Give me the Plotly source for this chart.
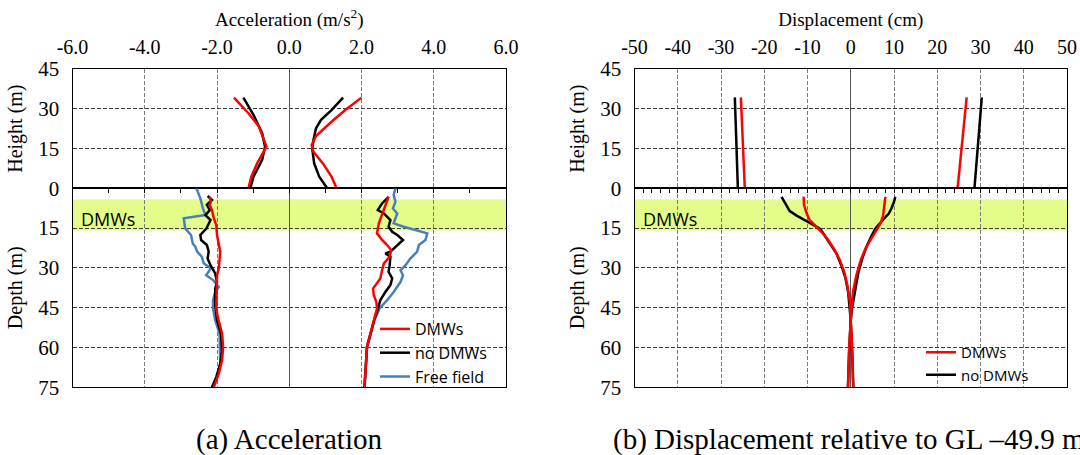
import plotly.graph_objects as go

# ---------------- data: acceleration (m/s^2) ----------------
# above ground (height, m)
h_acc_red_min = [34.2, 28.3, 23.3, 17.0, 15.7, 9.4, 4.4, 0.0]
a_acc_red_min = [-1.53, -1.13, -0.84, -0.65, -0.63, -0.89, -1.05, -1.13]
h_acc_red_max = [34.2, 29.5, 25.1, 19.7, 16.3, 13.8, 9.4, 4.4, 0.0]
a_acc_red_max = [2.00, 1.55, 1.17, 0.74, 0.62, 0.67, 0.93, 1.17, 1.31]
h_acc_blk_min = [34.2, 27.7, 20.8, 15.7, 10.7, 4.4, 0.0]
a_acc_blk_min = [-1.27, -0.99, -0.75, -0.67, -0.75, -0.99, -1.08]
h_acc_blk_max = [34.2, 29.5, 25.8, 22.6, 18.2, 14.5, 9.4, 4.4, 0.0]
a_acc_blk_max = [1.49, 1.17, 0.88, 0.74, 0.67, 0.64, 0.69, 0.83, 1.05]

# below ground (depth, m)
d_acc_red_min = [3.2, 5.0, 6.3, 8.2, 11.3, 13.9, 17.6, 20.8, 23.9, 27.1, 30.2, 32.8, 35.3, 40.3, 45.3, 48.5, 54.8, 59.8, 64.9, 69.9, 75.0]
a_acc_red_min_g = [-2.20, -2.17, -2.20, -2.14, -2.09, -2.02, -2.00, -1.95, -1.91, -1.93, -1.95, -2.00, -2.00, -2.02, -2.02, -1.98, -1.86, -1.83, -1.86, -1.95, -2.09]
d_acc_blk_min = [2.9, 4.4, 6.2, 8.2, 10.1, 12.0, 15.1, 17.6, 19.5, 21.4, 23.9, 26.5, 29.0, 32.1, 35.3, 37.8, 44.1, 49.7, 54.8, 61.1, 66.1, 71.1, 75.0]
a_acc_blk_min_g = [-2.26, -2.14, -2.28, -2.20, -2.32, -2.18, -2.29, -2.46, -2.44, -2.28, -2.23, -2.26, -2.18, -2.05, -2.00, -2.05, -2.05, -2.00, -1.89, -1.86, -1.91, -2.02, -2.14]
d_acc_ff_min = [0.0, 3.8, 7.6, 10.1, 11.3, 15.1, 17.6, 20.8, 22.0, 23.9, 25.8, 28.3, 30.2, 32.8, 34.6, 37.2, 39.1, 42.2, 45.3, 49.7, 54.8, 61.1, 66.1, 71.1, 75.0]
a_acc_ff_min = [-2.57, -2.46, -2.39, -2.32, -2.92, -2.88, -2.72, -2.67, -2.60, -2.55, -2.42, -2.37, -2.17, -2.30, -2.11, -1.95, -2.05, -2.11, -2.11, -2.05, -1.93, -1.91, -1.91, -2.00, -2.11]

d_acc_red_max = [3.2, 6.3, 10.1, 13.2, 17.0, 19.5, 21.4, 23.3, 25.8, 28.3, 30.9, 34.0, 36.5, 37.8, 40.3, 42.8, 45.3, 49.7, 54.8, 59.8, 67.0, 75.0]
a_acc_red_max_g = [2.75, 2.66, 2.57, 2.48, 2.43, 2.57, 2.71, 2.82, 2.78, 2.62, 2.57, 2.52, 2.39, 2.32, 2.34, 2.41, 2.43, 2.34, 2.25, 2.15, 2.12, 2.08]
d_acc_blk_max = [3.2, 5.7, 8.2, 9.5, 12.0, 14.5, 16.4, 17.6, 19.5, 22.0, 23.9, 24.6, 25.8, 29.0, 31.5, 34.0, 36.5, 39.1, 42.2, 45.3, 49.7, 54.8, 59.8, 67.0, 75.0]
a_acc_blk_max_g = [2.75, 2.57, 2.45, 2.62, 2.80, 2.75, 2.85, 2.99, 3.15, 2.94, 2.80, 2.66, 2.80, 2.78, 2.75, 2.85, 2.80, 2.66, 2.52, 2.46, 2.35, 2.25, 2.15, 2.12, 2.08]
d_acc_ff_max = [0.0, 2.5, 5.0, 7.6, 9.5, 11.3, 13.2, 14.5, 15.8, 17.0, 19.5, 21.4, 23.9, 26.5, 29.0, 30.9, 32.8, 35.3, 39.1, 42.2, 45.3, 49.7, 54.8, 59.8, 67.0, 75.0]
a_acc_ff_max = [2.94, 2.89, 2.94, 2.87, 2.99, 2.94, 2.89, 3.17, 3.54, 3.82, 3.77, 3.59, 3.54, 3.35, 3.22, 3.08, 3.15, 3.08, 2.89, 2.71, 2.50, 2.36, 2.26, 2.16, 2.12, 2.09]

# ---------------- data: displacement (cm) ----------------
h_dis_top = [34.3, 0.0]
v_dis_red_min_top = [-25.4, -24.5]
v_dis_blk_min_top = [-26.8, -26.1]
v_dis_red_max_top = [26.8, 24.7]
v_dis_blk_max_top = [30.3, 28.6]

d_dis_blk_min = [3.2, 4.4, 6.9, 8.6, 10.3, 12.0, 13.9, 15.1, 16.4, 18.9, 21.4, 24.6, 29.0, 34.0, 39.1, 45.3, 49.9, 60.0, 75.0]
v_dis_blk_min = [-16.0, -15.6, -14.8, -14.1, -12.5, -10.6, -8.7, -7.2, -6.6, -5.6, -4.5, -3.3, -2.2, -1.2, -0.6, -0.2, 0.0, 0.3, 0.6]
d_dis_red_min = [3.2, 6.3, 9.5, 12.0, 13.9, 16.4, 19.5, 23.3, 27.1, 31.5, 36.5, 42.8, 49.9, 60.0, 75.0]
v_dis_red_min = [-10.9, -10.8, -10.2, -9.5, -8.3, -6.8, -5.2, -3.7, -2.5, -1.5, -0.8, -0.2, 0.0, 0.3, 0.56]
d_dis_blk_max = [3.2, 5.1, 7.6, 9.5, 11.3, 13.2, 15.1, 17.6, 21.4, 25.8, 31.5, 37.8, 45.3, 49.9, 60.0, 75.0]
v_dis_blk_max = [10.3, 10.0, 9.4, 8.8, 7.8, 6.7, 5.7, 4.9, 3.8, 2.8, 1.8, 1.1, 0.3, 0.0, -0.35, -0.65]
d_dis_red_max = [3.2, 6.3, 10.1, 13.2, 15.7, 18.9, 22.7, 27.1, 32.8, 39.1, 45.3, 49.9, 60.0, 75.0]
v_dis_red_max = [8.0, 7.8, 7.5, 6.9, 5.9, 4.8, 3.4, 2.3, 1.3, 0.5, 0.15, 0.0, -0.35, -0.64]

# ---------------- tick labels ----------------
acc_tickvals = [-6, -4, -2, 0, 2, 4, 6]
acc_ticktext = ["-6.0", "-4.0", "-2.0", "0.0", "2.0", "4.0", "6.0"]
dis_tickvals = [-50, -40, -30, -20, -10, 0, 10, 20, 30, 40, 50]
dis_ticktext = ["-50", "-40", "-30", "-20", "-10", "0", "10", "20", "30", "40", "50"]
height_ticks = [0, 15, 30, 45]
depth_ticks = [15, 30, 45, 60, 75]

band_top, band_bottom = 4.1, 15.9
series_names = ["DMWs", "no DMWs", "Free field"]

RED, BLK, BLUE = "#ff0000", "#000000", "#4a7ebb"
LW = 2.5
SERIF = "Liberation Serif, Times New Roman, serif"
SANS = "Open Sans, sans-serif"

fig = go.Figure()

def add(x, y, xa, ya, color, name, rank, show, legend):
    fig.add_trace(go.Scatter(
        x=x, y=y, xaxis=xa, yaxis=ya, mode="lines",
        line=dict(color=color, width=LW),
        name=name, legendgroup=legend + name, showlegend=show,
        legendrank=rank, legend=legend, hoverinfo="skip"))

# acceleration panel
add(a_acc_blk_min, h_acc_blk_min, "x", "y", BLK, series_names[1], 2, False, "legend")
add(a_acc_blk_max, h_acc_blk_max, "x", "y", BLK, series_names[1], 2, False, "legend")
add(a_acc_red_min, h_acc_red_min, "x", "y", RED, series_names[0], 1, False, "legend")
add(a_acc_red_max, h_acc_red_max, "x", "y", RED, series_names[0], 1, False, "legend")
add(a_acc_ff_min, d_acc_ff_min, "x2", "y2", BLUE, series_names[2], 3, True, "legend")
add(a_acc_ff_max, d_acc_ff_max, "x2", "y2", BLUE, series_names[2], 3, False, "legend")
add(a_acc_blk_min_g, d_acc_blk_min, "x2", "y2", BLK, series_names[1], 2, True, "legend")
add(a_acc_blk_max_g, d_acc_blk_max, "x2", "y2", BLK, series_names[1], 2, False, "legend")
add(a_acc_red_min_g, d_acc_red_min, "x2", "y2", RED, series_names[0], 1, True, "legend")
add(a_acc_red_max_g, d_acc_red_max, "x2", "y2", RED, series_names[0], 1, False, "legend")

# displacement panel
add(v_dis_blk_min_top, h_dis_top, "x3", "y3", BLK, series_names[1], 2, False, "legend2")
add(v_dis_blk_max_top, h_dis_top, "x3", "y3", BLK, series_names[1], 2, False, "legend2")
add(v_dis_red_min_top, h_dis_top, "x3", "y3", RED, series_names[0], 1, False, "legend2")
add(v_dis_red_max_top, h_dis_top, "x3", "y3", RED, series_names[0], 1, False, "legend2")
add(v_dis_blk_min, d_dis_blk_min, "x4", "y4", BLK, series_names[1], 2, True, "legend2")
add(v_dis_blk_max, d_dis_blk_max, "x4", "y4", BLK, series_names[1], 2, False, "legend2")
add(v_dis_red_min, d_dis_red_min, "x4", "y4", RED, series_names[0], 1, True, "legend2")
add(v_dis_red_max, d_dis_red_max, "x4", "y4", RED, series_names[0], 1, False, "legend2")

W, H = 1080, 455
xl = [72.5 / W, 506 / W]
xr = [634.5 / W, 1067 / W]
top_dom = [(H - 188.3) / H, (H - 69) / H]
bot_dom = [(H - 387.2) / H, (H - 188.3) / H]

VG = dict(showgrid=True, gridcolor="#7a7a7a", griddash="4px,2px", gridwidth=1)
HG = dict(showgrid=True, gridcolor="#3c3c3c", griddash="4px,2px", gridwidth=1)
LINE = dict(showline=True, linecolor="black", linewidth=1, mirror=True)
XTICKF = dict(family=SERIF, size=20, color="black")
YTICKF = dict(family=SERIF, size=21, color="black")

def xtop(dom, anchor, rng, tv, tt, title):
    return dict(domain=dom, anchor=anchor, side="top", range=rng,
                tickmode="array", tickvals=tv, ticktext=tt,
                ticks="", tickfont=XTICKF, ticklabelstandoff=6,
                zeroline=True, zerolinecolor="#555555", zerolinewidth=1,
                title=dict(text=title, font=dict(family=SERIF, size=19, color="black"), standoff=4),
                automargin=False, **VG, **LINE)

def xbot(dom, anchor, rng, dtick, mdtick):
    return dict(domain=dom, anchor=anchor, side="top", range=rng, dtick=dtick,
                showticklabels=False, ticks="inside", ticklen=5, tickcolor="black",
                minor=dict(dtick=mdtick, ticks="inside", ticklen=5, tickcolor="black", showgrid=False),
                zeroline=True, zerolinecolor="#555555", zerolinewidth=1,
                automargin=False, **VG, **LINE)

def ytop(dom, anchor):
    return dict(domain=dom, anchor=anchor, range=[0, 45], tickvals=height_ticks,
                ticks="", tickfont=YTICKF, ticklabelstandoff=8, zeroline=False,
                title=dict(text="Height (m)", font=dict(family=SERIF, size=20, color="black"), standoff=10),
                automargin=False, **HG, **LINE)

def ybot(dom, anchor):
    return dict(domain=dom, anchor=anchor, range=[75, 0], tickvals=depth_ticks,
                ticks="", tickfont=YTICKF, ticklabelstandoff=8, zeroline=False,
                title=dict(text="Depth (m)", font=dict(family=SERIF, size=20, color="black"), standoff=10),
                automargin=False, **HG, **LINE)

fig.update_layout(
    width=W, height=H,
    margin=dict(l=0, r=0, t=0, b=0),
    paper_bgcolor="white", plot_bgcolor="white",
    xaxis=xtop(xl, "y", [-6, 6], acc_tickvals, acc_ticktext, "Acceleration (m/s<sup>2</sup>)"),
    yaxis=ytop(top_dom, "x"),
    xaxis2=xbot(xl, "y2", [-6, 6], 2, 1),
    yaxis2=ybot(bot_dom, "x2"),
    xaxis3=xtop(xr, "y3", [-50, 50], dis_tickvals, dis_ticktext, "Displacement (cm)"),
    yaxis3=ytop(top_dom, "x3"),
    xaxis4=xbot(xr, "y4", [-50, 50], 10, 2),
    yaxis4=ybot(bot_dom, "x4"),
    legend=dict(x=375 / W, y=(H - 312) / H, xanchor="left", yanchor="top",
                bgcolor="rgba(0,0,0,0)", font=dict(family=SANS, size=16, color="black"),
                itemwidth=30, tracegroupgap=0),
    legend2=dict(x=921 / W, y=(H - 336) / H, xanchor="left", yanchor="top",
                 bgcolor="rgba(0,0,0,0)", font=dict(family=SANS, size=15, color="black"),
                 itemwidth=30, tracegroupgap=0),
    showlegend=True,
)

for xa, ya in (("x2", "y2"), ("x4", "y4")):
    fig.add_shape(type="rect", xref=xa + " domain", yref=ya, x0=0, x1=1,
                  y0=band_top, y1=band_bottom, fillcolor="#e3fc8a",
                  line=dict(width=0), layer="below")
    fig.add_annotation(text="DMWs", xref=xa + " domain", yref=ya, x=0.015, y=11.6,
                       xanchor="left", yanchor="middle", showarrow=False,
                       font=dict(family=SANS, size=18, color="black"))

fig.add_annotation(text="(a) Acceleration", xref="paper", yref="paper",
                   x=289 / W, y=(H - 439) / H, xanchor="center", yanchor="middle",
                   showarrow=False, font=dict(family=SERIF, size=29, color="black"))
fig.add_annotation(text="(b) Displacement relative to GL \u201349.9 m", xref="paper", yref="paper",
                   x=611 / W, y=(H - 439) / H, xanchor="left", yanchor="middle",
                   showarrow=False, font=dict(family=SERIF, size=29, color="black"))

fig.write_html("out.html")
